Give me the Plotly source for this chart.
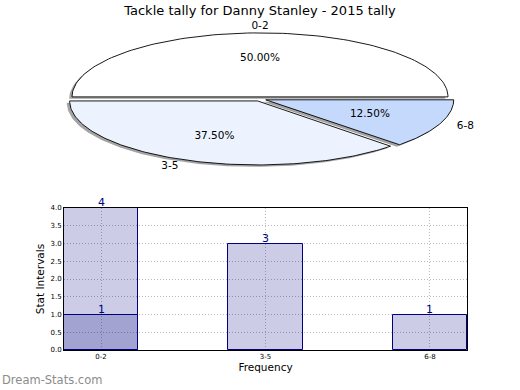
import numpy as np
import plotly.graph_objects as go

# ---- data ----
pie_labels = ["0-2", "3-5", "6-8"]
pie_values = [4, 3, 1]
pie_colors = ["#ffffff", "#ecf2fe", "#c5d9fd"]

bar_categories = ["0-2", "3-5", "6-8"]
bar_values = [4, 3, 1]
overlay_categories = ["0-2"]
overlay_values = [1]
y_ticks = [0.0, 0.5, 1.0, 1.5, 2.0, 2.5, 3.0, 3.5, 4.0]

title = "Tackle tally for Danny Stanley - 2015 tally"

fig = go.Figure()

# ---- elliptical exploded pie drawn on its own axes (unit radius) ----
explode = 0.033
shadow_dx, shadow_dy = -0.015, -0.03
total = float(sum(pie_values))
start = 0.0
wedges = []
for lab, val, col in zip(pie_labels, pie_values, pie_colors):
    span = 360.0 * val / total
    t1, t2 = start, start + span
    mid = np.deg2rad((t1 + t2) / 2)
    ox, oy = explode * np.cos(mid), explode * np.sin(mid)
    th = np.deg2rad(np.linspace(t1, t2, 120))
    xs = np.concatenate([[ox], ox + np.cos(th), [ox]])
    ys = np.concatenate([[oy], oy + np.sin(th), [oy]])
    wedges.append((lab, val, col, xs, ys, mid, ox, oy))
    start = t2

for lab, val, col, xs, ys, mid, ox, oy in wedges:
    fig.add_trace(go.Scatter(x=xs + shadow_dx, y=ys + shadow_dy, mode="lines",
                             fill="toself", fillcolor="rgba(90,90,90,0.55)",
                             line=dict(width=0), hoverinfo="skip",
                             xaxis="x2", yaxis="y2", showlegend=False))
for lab, val, col, xs, ys, mid, ox, oy in wedges:
    fig.add_trace(go.Scatter(x=xs, y=ys, mode="lines", fill="toself",
                             fillcolor=col, line=dict(color="black", width=0.9),
                             hoverinfo="skip", xaxis="x2", yaxis="y2",
                             showlegend=False))
    # category label outside the wedge
    lx, ly = ox + 1.1 * np.cos(mid), oy + 1.1 * np.sin(mid)
    c = np.cos(mid)
    if abs(c) < 1e-6:
        tp = "middle center"
    elif c > 0:
        tp = "middle right"
    else:
        tp = "middle left"
    fig.add_trace(go.Scatter(x=[lx], y=[ly], mode="text", text=[lab],
                             textposition=tp,
                             textfont=dict(family="DejaVu Sans", size=10.5, color="black"),
                             hoverinfo="skip", xaxis="x2", yaxis="y2", showlegend=False))
    # percentage inside
    px_, py_ = ox + 0.6 * np.cos(mid), oy + 0.6 * np.sin(mid)
    fig.add_trace(go.Scatter(x=[px_], y=[py_], mode="text",
                             text=["%.2f%%" % (100.0 * val / total)],
                             textposition="middle center",
                             textfont=dict(family="DejaVu Sans", size=10.5, color="black"),
                             hoverinfo="skip", xaxis="x2", yaxis="y2", showlegend=False))

# ---- bars (semi-transparent navy, like the reference) ----
bar_fill = "rgba(0,0,128,0.2)"
fig.add_trace(go.Bar(x=bar_categories, y=bar_values, width=0.45,
                     marker=dict(color=bar_fill, line=dict(color="#000080", width=1)),
                     hoverinfo="skip", showlegend=False))
fig.add_trace(go.Bar(x=overlay_categories, y=overlay_values, width=0.45,
                     marker=dict(color=bar_fill, line=dict(color="#000080", width=1)),
                     hoverinfo="skip", showlegend=False))

W, H = 520, 390
cx, cy, rx, ry = 260, 99, 188, 64

annotations = []
for cat, v in zip(bar_categories + overlay_categories, bar_values + overlay_values):
    annotations.append(dict(x=cat, y=v, xref="x", yref="y", text=str(v),
                            showarrow=False, xanchor="center", yanchor="bottom",
                            yshift=-3,
                            font=dict(family="DejaVu Sans", size=11, color="#000080")))
annotations.append(dict(text="Dream-Stats.com", x=0, y=1 - 380 / H,
                        xref="paper", yref="paper", xanchor="left", yanchor="middle",
                        showarrow=False,
                        font=dict(size=11.5, color="#8c8c8c", family="DejaVu Sans")))

grid_style = dict(showgrid=True, gridcolor="#b8b8b8", griddash="1px,2px", gridwidth=1)

fig.update_layout(
    width=W, height=H, margin=dict(l=0, r=0, t=0, b=0, autoexpand=False),
    paper_bgcolor="white", plot_bgcolor="rgba(0,0,0,0)",
    barmode="overlay", bargap=0,
    font=dict(family="DejaVu Sans", color="black"),
    title=dict(text=title, x=0.5, xanchor="center", y=1 - 10 / H, yanchor="middle",
               font=dict(size=13, family="DejaVu Sans", color="black")),
    xaxis=dict(domain=[64 / W, 467 / W], range=[-0.225, 2.225], type="category",
               showline=True, linecolor="black", linewidth=1, mirror=True,
               ticks="", tickfont=dict(size=7, family="DejaVu Sans"),
               title=dict(text="Frequency", font=dict(size=10.5), standoff=3),
               zeroline=False, anchor="y", **grid_style),
    yaxis=dict(domain=[1 - 350 / H, 1 - 208 / H], range=[0, 4],
               tickvals=y_ticks, ticktext=["%.1f" % v for v in y_ticks],
               showline=True, linecolor="black", linewidth=1, mirror=True,
               ticks="", tickfont=dict(size=7, family="DejaVu Sans"),
               title=dict(text="Stat Intervals", font=dict(size=10.5), standoff=3),
               zeroline=False, anchor="x", **grid_style),
    xaxis2=dict(domain=[0, 1], range=[-cx / rx, (W - cx) / rx], visible=False,
                anchor="y2", fixedrange=True),
    yaxis2=dict(domain=[0, 1], range=[-(H - cy) / ry, cy / ry], visible=False,
                anchor="x2", fixedrange=True),
    annotations=annotations,
)

fig.write_html("out.html", config={"displayModeBar": False},
               post_script="document.body.style.margin='0';document.body.style.padding='0';")
